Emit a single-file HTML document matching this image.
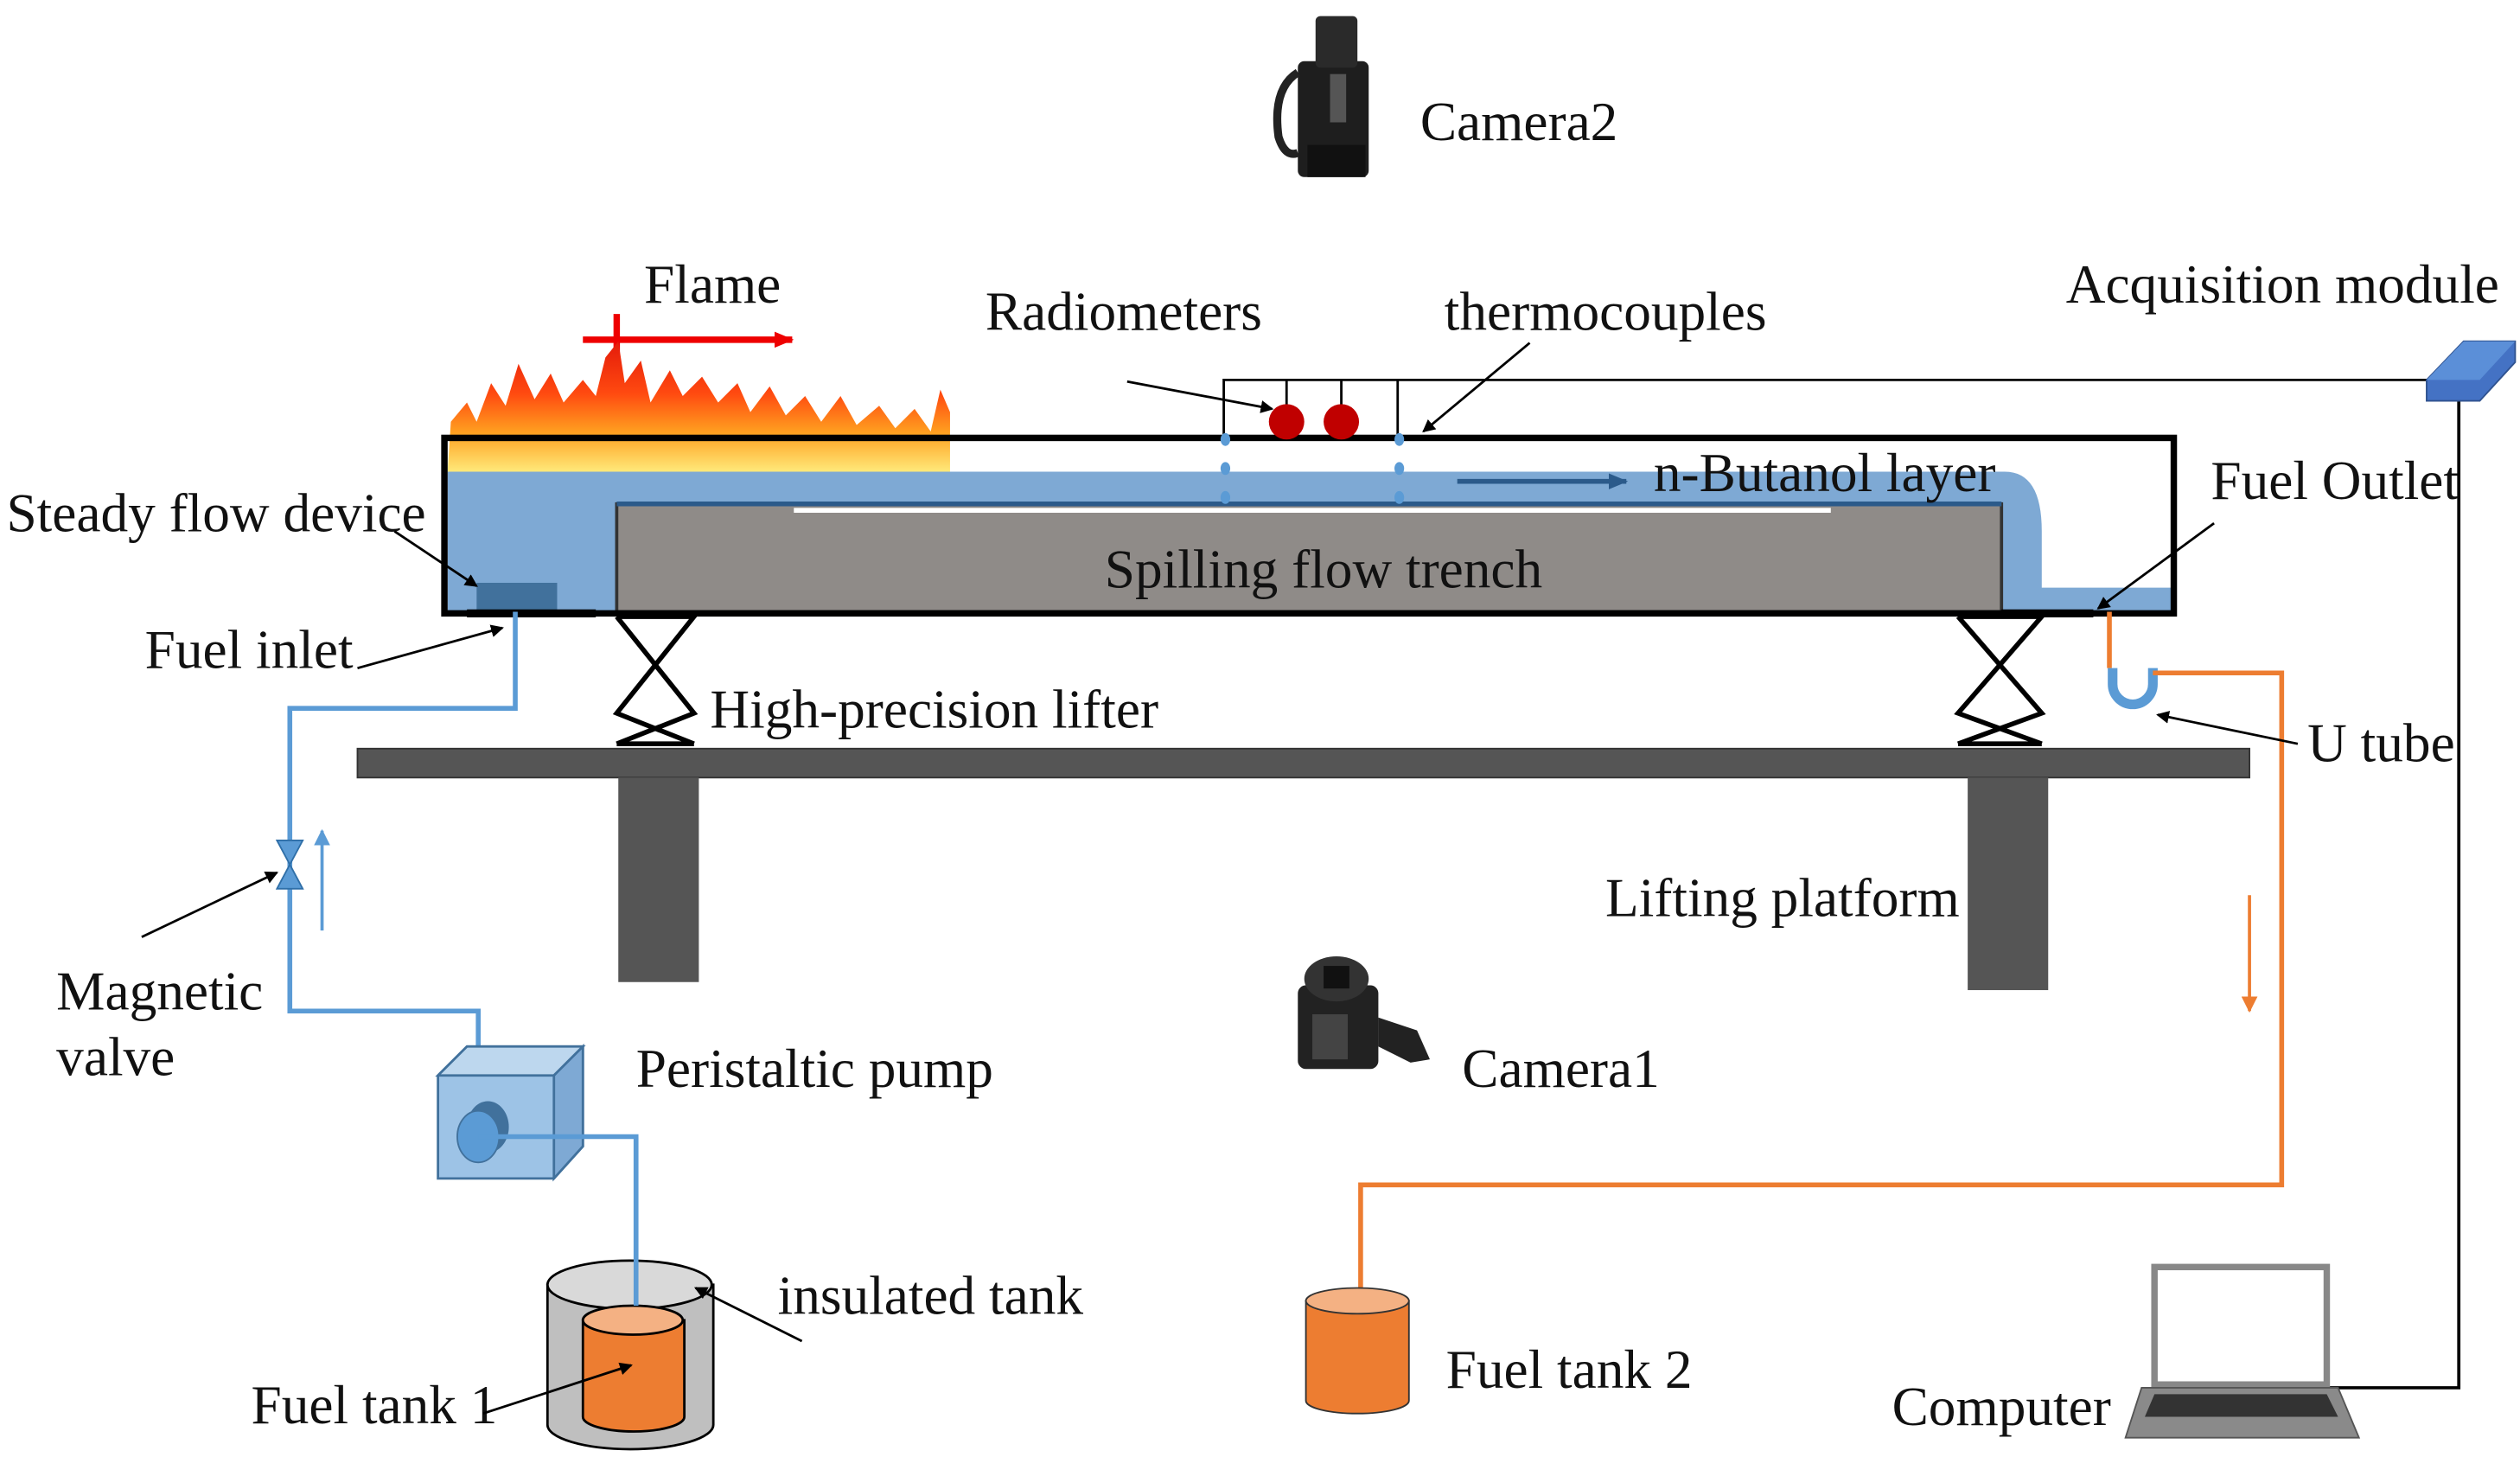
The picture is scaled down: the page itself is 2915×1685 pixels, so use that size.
<!DOCTYPE html>
<html><head><meta charset="utf-8"><style>
html,body{margin:0;padding:0;background:#fff;}
svg{display:block;}
text{font-family:"Liberation Serif",serif;font-size:34px;fill:#111;}
</style></head><body>
<svg width="2915" height="1685" viewBox="0 0 1565 905" preserveAspectRatio="none" xmlns="http://www.w3.org/2000/svg">
<defs>
<marker id="ab" markerWidth="8" markerHeight="8" refX="7" refY="4" orient="auto" markerUnits="userSpaceOnUse"><path d="M0,0 L8,4 L0,8 Z" fill="#000"/></marker>
<marker id="ar" markerWidth="12" markerHeight="10" refX="11" refY="5" orient="auto" markerUnits="userSpaceOnUse"><path d="M0,0 L12,5 L0,10 Z" fill="#e00"/></marker>
<marker id="ad" markerWidth="12" markerHeight="10" refX="11" refY="5" orient="auto" markerUnits="userSpaceOnUse"><path d="M0,0 L12,5 L0,10 Z" fill="#2b5a8a"/></marker>
<marker id="ao" markerWidth="10" markerHeight="10" refX="9" refY="5" orient="auto" markerUnits="userSpaceOnUse"><path d="M0,0 L10,5 L0,10 Z" fill="#ed7d31"/></marker>
<marker id="au" markerWidth="10" markerHeight="10" refX="9" refY="5" orient="auto" markerUnits="userSpaceOnUse"><path d="M0,0 L10,5 L0,10 Z" fill="#5b9bd5"/></marker>
<linearGradient id="fl" x1="0" y1="1" x2="0" y2="0"><stop offset="0" stop-color="#ffe97a"/><stop offset="0.3" stop-color="#ffa020"/><stop offset="0.6" stop-color="#ff4a10"/><stop offset="1" stop-color="#e41a0a"/></linearGradient>
</defs>

<!-- Camera2 -->
<g>
<rect x="806" y="38" width="44" height="72" rx="4" fill="#1e1e1e"/>
<rect x="817" y="10" width="26" height="32" rx="3" fill="#2a2a2a"/>
<rect x="812" y="90" width="36" height="20" fill="#111"/>
<path d="M806,45 Q790,55 794,85 Q798,98 806,95" fill="none" stroke="#222" stroke-width="5"/>
<rect x="826" y="46" width="10" height="30" fill="#555"/>
</g>
<text x="882" y="87">Camera2</text>

<!-- Flame -->
<text x="400" y="188">Flame</text>
<line x1="362" y1="211" x2="492" y2="211" stroke="#e00" stroke-width="4" marker-end="url(#ar)"/>
<line x1="383" y1="195" x2="383" y2="232" stroke="#e00" stroke-width="4"/>
<path d="M278,293 L280,262 L290,250 L296,262 L305,238 L314,252 L322,226 L332,248 L342,232 L350,250 L362,236 L370,246 L376,222 L384,212 L388,238 L398,224 L404,250 L416,230 L424,246 L436,234 L446,250 L458,238 L466,256 L478,240 L488,258 L500,246 L510,262 L522,246 L532,264 L546,252 L556,266 L568,254 L578,268 L584,242 L590,256 L590,293 Z" fill="url(#fl)"/>

<text x="612" y="205">Radiometers</text>
<text x="897" y="205">thermocouples</text>
<text x="1283" y="188">Acquisition module</text>

<!-- wires -->
<polyline points="760,272 760,236 1510,236" fill="none" stroke="#000" stroke-width="1.5"/>
<polyline points="1527,248 1527,862 1445,862" fill="none" stroke="#000" stroke-width="2"/>
<line x1="799" y1="236" x2="799" y2="252" stroke="#000" stroke-width="1.5"/>
<line x1="833" y1="236" x2="833" y2="252" stroke="#000" stroke-width="1.5"/>
<line x1="868" y1="236" x2="868" y2="272" stroke="#000" stroke-width="1.5"/>
<path d="M1507,236 L1530,212 L1562,212 L1562,225 L1540,249 L1507,249 Z" fill="#4472c4" stroke="#2f528f"/>
<path d="M1507,236 L1530,212 L1562,212 L1540,236 Z" fill="#5b8fd8"/>

<!-- fluid -->
<path d="M278,293 L1245,293 Q1268,293 1268,330 L1268,365 L1350,365 L1350,380 L278,380 Z" fill="#7ea9d4"/>
<rect x="383" y="313" width="860" height="67" fill="#8f8b88" stroke="#333" stroke-width="2"/>
<line x1="383" y1="313" x2="1243" y2="313" stroke="#2b5a8a" stroke-width="3"/>
<line x1="493" y1="317" x2="1137" y2="317" stroke="#fff" stroke-width="3"/>
<rect x="296" y="362" width="50" height="18" fill="#41719c"/>
<rect x="276" y="272" width="1074" height="109" fill="none" stroke="#000" stroke-width="4"/>
<line x1="290" y1="381" x2="370" y2="381" stroke="#000" stroke-width="5"/>
<line x1="1243" y1="381" x2="1300" y2="381" stroke="#000" stroke-width="5"/>
<text x="686" y="365">Spilling flow trench</text>
<line x1="905" y1="299" x2="1010" y2="299" stroke="#2b5a8a" stroke-width="3" marker-end="url(#ad)"/>
<text x="1027" y="305">n-Butanol layer</text>

<circle cx="799" cy="262" r="11" fill="#c00000"/>
<circle cx="833" cy="262" r="11" fill="#c00000"/>
<g fill="#5b9bd5">
<ellipse cx="761" cy="273" rx="3" ry="4"/><ellipse cx="761" cy="291" rx="3" ry="4"/><ellipse cx="761" cy="309" rx="3" ry="4"/>
<ellipse cx="869" cy="273" rx="3" ry="4"/><ellipse cx="869" cy="291" rx="3" ry="4"/><ellipse cx="869" cy="309" rx="3" ry="4"/>
</g>
<line x1="700" y1="237" x2="790" y2="254" stroke="#000" stroke-width="1.5" marker-end="url(#ab)"/>
<line x1="950" y1="213" x2="884" y2="268" stroke="#000" stroke-width="1.5" marker-end="url(#ab)"/>

<text x="4" y="330">Steady flow device</text>
<line x1="245" y1="330" x2="296" y2="364" stroke="#000" stroke-width="1.5" marker-end="url(#ab)"/>
<text x="90" y="415">Fuel inlet</text>
<line x1="222" y1="415" x2="312" y2="390" stroke="#000" stroke-width="1.5" marker-end="url(#ab)"/>
<text x="1373" y="310">Fuel Outlet</text>
<line x1="1375" y1="325" x2="1303" y2="378" stroke="#000" stroke-width="1.5" marker-end="url(#ab)"/>

<!-- lifters -->
<g fill="none" stroke="#000" stroke-width="3">
<path d="M383,383 L431,383 L383,443 L431,462 M383,383 L431,443 L383,462 M383,462 L431,462"/>
<path d="M1216,383 L1268,383 L1216,443 L1268,462 M1216,383 L1268,443 L1216,462 M1216,462 L1268,462"/>
</g>
<text x="441" y="452">High-precision lifter</text>

<rect x="222" y="465" width="1175" height="18" fill="#555" stroke="#333"/>
<rect x="384" y="483" width="50" height="127" fill="#555"/>
<rect x="1222" y="483" width="50" height="132" fill="#555"/>
<text x="997" y="569">Lifting platform</text>

<!-- blue pipe -->
<polyline points="320,380 320,440 180,440 180,628 297,628 297,700" fill="none" stroke="#5b9bd5" stroke-width="3"/>
<path d="M172,522 L188,522 L172,552 L188,552 Z" fill="#5b9bd5" stroke="#2f6fa8"/>
<line x1="200" y1="578" x2="200" y2="516" stroke="#5b9bd5" stroke-width="2" marker-end="url(#au)"/>
<text x="35" y="627">Magnetic</text>
<text x="35" y="668">valve</text>
<line x1="88" y1="582" x2="172" y2="542" stroke="#000" stroke-width="1.5" marker-end="url(#ab)"/>

<!-- pump -->
<path d="M272,668 L290,650 L362,650 L362,712 L344,732 L272,732 Z" fill="#9dc3e6" stroke="#41719c" stroke-width="1.5"/>
<path d="M272,668 L290,650 L362,650 L344,668 Z" fill="#bdd7ee" stroke="#41719c" stroke-width="1.5"/>
<path d="M344,668 L362,650 L362,712 L344,732 Z" fill="#7ea9d4" stroke="#41719c" stroke-width="1.5"/>
<ellipse cx="303" cy="700" rx="13" ry="16" fill="#41719c"/>
<ellipse cx="297" cy="706" rx="13" ry="16" fill="#5b9bd5" stroke="#41719c"/>
<polyline points="297,706 395,706 395,810" fill="none" stroke="#5b9bd5" stroke-width="3"/>
<text x="395" y="675">Peristaltic pump</text>

<!-- insulated tank -->
<path d="M340,798 L340,885 A51,15 0 0 0 443,885 L443,798 Z" fill="#bfbfbf" stroke="#000" stroke-width="1.5"/>
<ellipse cx="391" cy="798" rx="51" ry="15" fill="#d9d9d9" stroke="#000" stroke-width="1.5"/>
<path d="M362,820 L362,880 A31,9 0 0 0 425,880 L425,820 Z" fill="#ed7d31" stroke="#000" stroke-width="1.5"/>
<ellipse cx="393" cy="820" rx="31" ry="9" fill="#f4b183" stroke="#000" stroke-width="1.5"/>
<line x1="395" y1="706" x2="395" y2="811" stroke="#5b9bd5" stroke-width="3"/>
<text x="483" y="816">insulated tank</text>
<line x1="498" y1="833" x2="432" y2="800" stroke="#000" stroke-width="1.5" marker-end="url(#ab)"/>
<text x="156" y="884">Fuel tank 1</text>
<line x1="300" y1="878" x2="392" y2="848" stroke="#000" stroke-width="1.5" marker-end="url(#ab)"/>

<!-- orange pipe -->
<polyline points="1310,380 1310,415" fill="none" stroke="#ed7d31" stroke-width="3"/>
<path d="M1312,415 L1312,425 A12,12 0 0 0 1337,425 L1337,415" fill="none" stroke="#5b9bd5" stroke-width="6"/>
<polyline points="1337,418 1417,418 1417,736 845,736 845,803" fill="none" stroke="#ed7d31" stroke-width="3"/>
<line x1="1397" y1="556" x2="1397" y2="628" stroke="#ed7d31" stroke-width="2" marker-end="url(#ao)"/>
<text x="1433" y="473">U tube</text>
<line x1="1427" y1="462" x2="1340" y2="444" stroke="#000" stroke-width="1.5" marker-end="url(#ab)"/>

<path d="M811,808 L811,870 A32,8 0 0 0 875,870 L875,808 Z" fill="#ed7d31" stroke="#333"/>
<ellipse cx="843" cy="808" rx="32" ry="8" fill="#f4b183" stroke="#333"/>
<text x="898" y="862">Fuel tank 2</text>

<!-- camera1 -->
<g>
<rect x="806" y="612" width="50" height="52" rx="5" fill="#222"/>
<ellipse cx="830" cy="608" rx="20" ry="14" fill="#333"/>
<rect x="822" y="600" width="16" height="14" fill="#111"/>
<path d="M856,632 L880,640 L888,658 L876,660 L856,650 Z" fill="#222"/>
<rect x="815" y="630" width="22" height="28" fill="#444"/>
</g>
<text x="908" y="675">Camera1</text>

<!-- computer -->
<rect x="1338" y="787" width="107" height="73" fill="#fff" stroke="#888" stroke-width="4"/>
<path d="M1330,862 L1452,862 L1465,893 L1320,893 Z" fill="#8a8a8a" stroke="#555"/>
<path d="M1338,866 L1445,866 L1452,880 L1332,880 Z" fill="#333"/>
<text x="1175" y="885">Computer</text>
</svg>
</body></html>
